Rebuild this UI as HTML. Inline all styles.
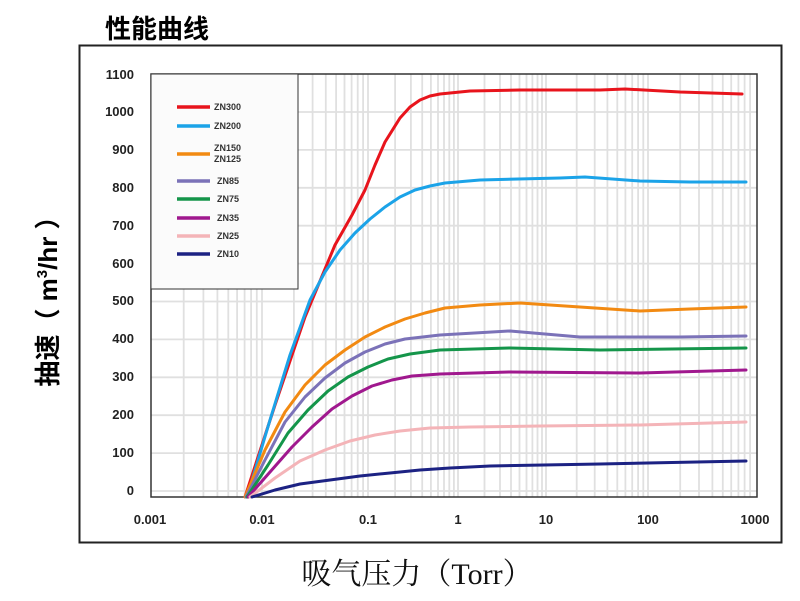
<!DOCTYPE html>
<html><head><meta charset="utf-8"><style>
body{margin:0;background:#fff;width:800px;height:601px;overflow:hidden}
svg{display:block}
</style></head><body>
<svg width="800" height="601" xmlns="http://www.w3.org/2000/svg" font-family="Liberation Sans, Noto Sans CJK SC, sans-serif">
<rect x="0" y="0" width="800" height="601" fill="#fff"/>
<text x="105" y="38" font-size="26" font-weight="bold" font-family="Liberation Sans, Noto Sans CJK SC, sans-serif">性能曲线</text>
<rect x="79.5" y="45.5" width="702" height="497" fill="#fff" stroke="#222" stroke-width="2"/>
<g stroke="#e0e0e0" stroke-width="1.8" fill="none">
<path d="M183.7,74V497M203.4,74V497M217.4,74V497M228.3,74V497M237.1,74V497M244.6,74V497M251.1,74V497M256.8,74V497M262,74V497
M293.9,74V497M312.6,74V497M325.8,74V497M336.1,74V497M344.5,74V497M351.6,74V497M357.7,74V497M363.1,74V497M368,74V497
M395.1,74V497M410.9,74V497M422.2,74V497M430.9,74V497M438,74V497M444,74V497M449.3,74V497M453.9,74V497M458,74V497
M484.5,74V497M500,74V497M511,74V497M519.5,74V497M526.5,74V497M532.4,74V497M537.5,74V497M542,74V497M546,74V497
M576.7,74V497M594.7,74V497M607.4,74V497M617.3,74V497M625.4,74V497M632.2,74V497M638.1,74V497M643.3,74V497M648,74V497
M680.2,74V497M699,74V497M712.4,74V497M722.8,74V497M731.2,74V497M738.4,74V497M744.6,74V497M750.1,74V497"/>
<path d="M151,491H757M151,453.1H757M151,415.2H757M151,377.3H757M151,339.4H757M151,301.5H757M151,263.6H757M151,225.7H757M151,187.8H757M151,149.9H757M151,112H757"/>
</g>
<rect x="151" y="74" width="606" height="423" fill="none" stroke="#333" stroke-width="1.5"/>
<g font-size="13" font-weight="bold" fill="#222" text-anchor="end">
<text x="134" y="79">1100</text><text x="134" y="116">1000</text><text x="134" y="154">900</text>
<text x="134" y="192">800</text><text x="134" y="230">700</text><text x="134" y="268">600</text>
<text x="134" y="305">500</text><text x="134" y="343">400</text><text x="134" y="381">300</text>
<text x="134" y="419">200</text><text x="134" y="457">100</text><text x="134" y="495">0</text>
</g>
<g font-size="13" font-weight="bold" fill="#222" text-anchor="middle">
<text x="150" y="524">0.001</text><text x="262" y="524">0.01</text><text x="368" y="524">0.1</text>
<text x="458" y="524">1</text><text x="546" y="524">10</text><text x="648" y="524">100</text><text x="755" y="524">1000</text>
</g>
<g fill="none" stroke-width="3" stroke-linejoin="round" stroke-linecap="round">
<polyline stroke="#e8141c" points="245,497 275,405 305,317 335,245 352,215 365,190 375,165 385,142 400,118 410,107 420,100 430,96 440,94 470,91 520,90 600,90 625,89 680,92 742,94"/>
<polyline stroke="#1ba3e8" points="247,497 270,420 290,355 310,300 325,272 340,250 355,233 370,219 385,207 400,197 415,190 430,186 445,183 480,180 560,178 585,177 640,181 690,182 746,182"/>
<polyline stroke="#f28a12" points="245,497 265,450 285,412 305,385 325,365 345,350 365,337 385,327 405,319 425,313 445,308 480,305 520,303 580,307 640,311 690,309 746,307"/>
<polyline stroke="#7b72b8" points="246,497 265,460 285,422 305,397 325,378 345,363 365,352 385,344 405,339 440,335 510,331 580,337 680,337 746,336"/>
<polyline stroke="#14954a" points="247,497 268,465 288,433 308,410 328,391 348,377 368,367 388,359 410,354 440,350 510,348 600,350 746,348"/>
<polyline stroke="#a0188e" points="248,497 270,472 292,447 312,427 332,409 352,396 372,386 392,380 412,376 440,374 510,372 640,373 746,370"/>
<polyline stroke="#f4b4b8" points="250,497 275,478 300,461 325,450 350,441 375,435 400,431 430,428 470,427 540,426 640,425 746,422"/>
<polyline stroke="#1c2283" points="252,497 275,490 300,484 330,480 360,476 390,473 420,470 450,468 490,466 600,464 746,461"/>
</g>
<rect x="151" y="74" width="147" height="215" fill="#fbfbfb" stroke="#333" stroke-width="1"/>
<g stroke-width="3.5">
<line x1="177" y1="107" x2="210" y2="107" stroke="#e8141c"/>
<line x1="177" y1="126" x2="210" y2="126" stroke="#1ba3e8"/>
<line x1="177" y1="154" x2="210" y2="154" stroke="#f28a12"/>
<line x1="177" y1="181" x2="210" y2="181" stroke="#7b72b8"/>
<line x1="177" y1="199" x2="210" y2="199" stroke="#14954a"/>
<line x1="177" y1="218" x2="210" y2="218" stroke="#a0188e"/>
<line x1="177" y1="236" x2="210" y2="236" stroke="#f4b4b8"/>
<line x1="177" y1="254" x2="210" y2="254" stroke="#1c2283"/>
</g>
<g font-size="9" font-weight="bold" fill="#333">
<text x="214" y="110">ZN300</text><text x="214" y="129">ZN200</text>
<text x="214" y="151">ZN150</text><text x="214" y="162">ZN125</text>
<text x="217" y="184">ZN85</text><text x="217" y="202">ZN75</text>
<text x="217" y="221">ZN35</text><text x="217" y="239">ZN25</text><text x="217" y="257">ZN10</text>
</g>
<text transform="translate(57,295) rotate(-90)" font-size="26" font-weight="bold" text-anchor="middle" font-family="Liberation Sans, Noto Sans CJK SC, sans-serif">抽速（ m<tspan font-size="15" dy="-10">3</tspan><tspan dy="10">/hr ）</tspan></text>
<text x="417" y="584" font-size="30" text-anchor="middle" fill="#111" font-family="Liberation Serif, Noto Serif CJK SC, serif">吸气压力（Torr）</text>
</svg>
</body></html>
